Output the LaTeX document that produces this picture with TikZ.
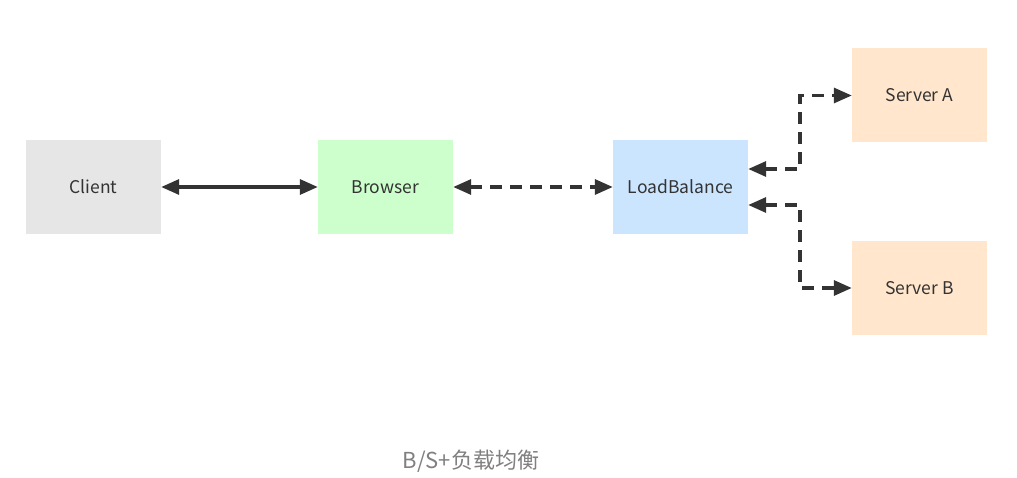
\documentclass[tikz,border=0pt]{standalone}
\usepackage{fontspec}
\setmainfont{Noto Sans CJK SC}
\usetikzlibrary{arrows.meta}
\definecolor{txt}{HTML}{333333}
\definecolor{ln}{HTML}{333333}
\tikzset{
  box/.style={minimum width=135pt, minimum height=94pt, inner sep=0pt, text=txt, font=\fontsize{17.5}{20}\selectfont},
  conn/.style={draw=ln, line width=3.2pt, {Triangle[length=18pt,width=15pt]}-{Triangle[length=18pt,width=15pt]}},
  dashline/.style={dash pattern=on 12pt off 8pt}
}
\begin{document}
\begin{tikzpicture}[x=1pt,y=-1pt]
\useasboundingbox[fill=white] (0,0) rectangle (1017,478);
\node[box, fill={rgb,255:red,230;green,230;blue,230}] (client) at (93.5,187) {Client};
\node[box, fill={rgb,255:red,204;green,255;blue,204}] (browser) at (385.5,187) {Browser};
\node[box, fill={rgb,255:red,204;green,229;blue,255}] (lb) at (680.5,187) {LoadBalance};
\node[box, fill={rgb,255:red,255;green,230;blue,204}] (sa) at (919.5,95.5) {Server A};
\node[box, fill={rgb,255:red,255;green,230;blue,204}] (sb) at (919.5,288) {Server B};
\node[text={rgb,255:red,128;green,128;blue,128}, font=\fontsize{22}{24}\selectfont] (cap) at (471,461) {B/S+负载均衡};
\draw[conn] (client.east) -- (browser.west);
\draw[conn, dashline] (browser.east) -- (lb.west);
\draw[conn, dashline] ([yshift=18pt]lb.east) -| (800,95.5) -- (sa.west);
\draw[conn, dashline] ([yshift=-18pt]lb.east) -| (800,288) -- (sb.west);
\end{tikzpicture}
\end{document}
